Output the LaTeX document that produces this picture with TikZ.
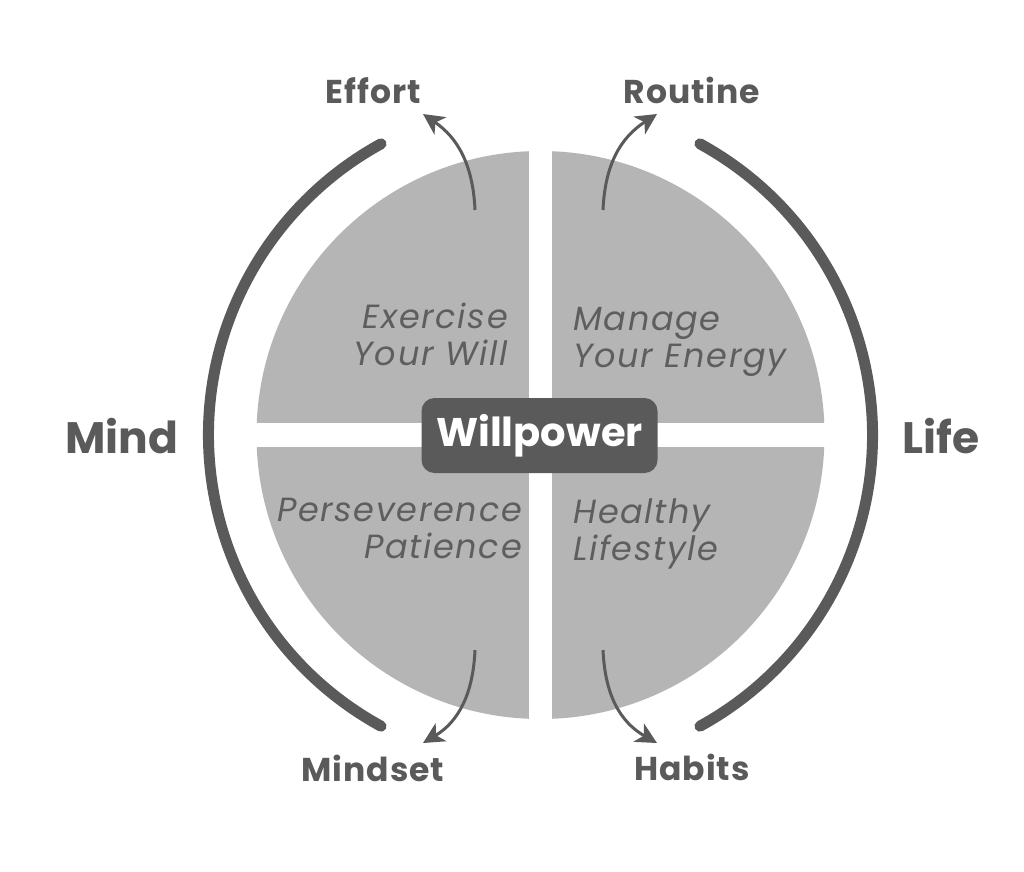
\documentclass[tikz,border=0pt]{standalone}
\usepackage{fontspec}
\setmainfont{Poppins}
\usetikzlibrary{arrows.meta,calc}
\definecolor{dk}{HTML}{5A5A5A}
\definecolor{qd}{HTML}{B5B5B5}
\definecolor{tx}{HTML}{5E5E5E}
\tikzset{
  side/.style={font=\fontsize{44}{44}\selectfont\bfseries, text=dk, anchor=base},
  lab/.style={font=\fontsize{33}{33}\selectfont\bfseries\addfontfeature{LetterSpace=3}, text=dk, anchor=base},
  itl/.style={font=\fontsize{33.5}{37}\selectfont\itshape\addfontfeature{LetterSpace=5}, text=tx, inner sep=0pt},
  arc/.style={draw=dk, line width=11pt, line cap=round},
  arr/.style={draw=dk, line width=3pt, -{Stealth[length=21pt,width=21pt,inset=6pt]}},
}
\begin{document}
\begin{tikzpicture}[x=1pt,y=-1pt]
\useasboundingbox (0,0) rectangle (1024,871);
\fill[white] (0,0) rectangle (1024,871);
% quadrants
\fill[qd] (540.5,435) circle (284);
\fill[white] (529,140) rectangle (552,730);
\fill[white] (245,423) rectangle (836,447);
% outer arcs
\draw[arc] ($(540.5,435)+(118.7:332)$) arc (118.7:241.3:332);
\draw[arc] ($(540.5,435)+(-61.3:332)$) arc (-61.3:61.3:332);
% centre
\node[fill=dk, rounded corners=13pt, minimum width=236pt, minimum height=75pt, text=white,
      font=\fontsize{40}{40}\selectfont\bfseries] (w) at (539.5,435.5) {Willpower};
% quadrant texts
\node[itl, anchor=base east, align=right] (q1) at (508,365) {Exercise\\Your Will};
\node[itl, anchor=base west, align=left] (q2) at (573,367) {Manage\\Your Energy};
\node[itl, anchor=base east, align=right] (q3) at (522,558) {Perseverence\\Patience};
\node[itl, anchor=base west, align=left] (q4) at (573,560) {Healthy\\Lifestyle};
% labels
\node[side] (mind) at (121.5,453) {Mind};
\node[side] (life) at (941,453) {Life};
\node[lab] (effort) at (373,103) {Effort};
\node[lab] (routine) at (692,103) {Routine};
\node[lab] (mindset) at (373,781) {Mindset};
\node[lab] (habits) at (692,780) {Habits};
% arrows
\coordinate (a1) at (475,210); \coordinate (b1) at (423,114);
\coordinate (a2) at (603,210); \coordinate (b2) at (657,114);
\coordinate (a3) at (475,650); \coordinate (b3) at (423,743);
\coordinate (a4) at (603,650); \coordinate (b4) at (657,743);
\draw[arr] (a1) .. controls (473,165) and (458,138) .. (b1);
\draw[arr] (a2) .. controls (605,165) and (620,138) .. (b2);
\draw[arr] (a3) .. controls (473,695) and (458,722) .. (b3);
\draw[arr] (a4) .. controls (605,695) and (620,722) .. (b4);
\end{tikzpicture}
\end{document}
